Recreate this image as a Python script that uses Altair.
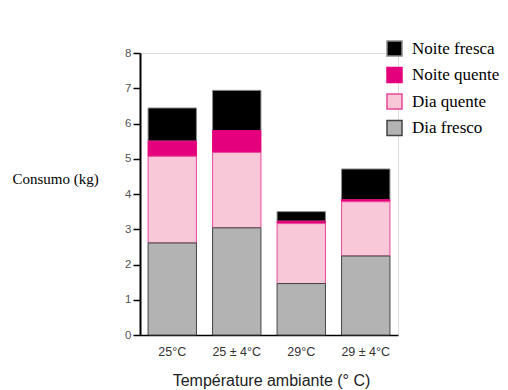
import altair as alt
import pandas as pd

categories = ["25°C", "25 ± 4°C", "29°C", "29 ± 4°C"]
dia_fresco = [2.61, 3.04, 1.46, 2.24]
dia_quente = [2.46, 2.14, 1.70, 1.54]
noite_quente = [0.43, 0.62, 0.07, 0.06]
noite_fresca = [0.94, 1.14, 0.27, 0.87]

series_names = ["Noite fresca", "Noite quente", "Dia quente", "Dia fresco"]
series_values = [noite_fresca, noite_quente, dia_quente, dia_fresco]
stack_order = {"Dia fresco": 0, "Dia quente": 1, "Noite quente": 2, "Noite fresca": 3}

fills = ["#000000", "#e4007c", "#f8c8d9", "#b3b3b3"]
strokes = ["#8a8a8a", "#e4007c", "#e8489a", "#444444"]

rows = []
for name, vals in zip(series_names, series_values):
    for cat, v in zip(categories, vals):
        rows.append({"cat": cat, "serie": name, "valor": v, "ordem": stack_order[name]})
df = pd.DataFrame(rows)

legend_common = dict(title=None, orient="none", legendX=246, legendY=-13,
                     symbolType="square", symbolSize=225, symbolStrokeWidth=1.5,
                     labelFont="Liberation Serif", labelFontSize=17,
                     labelColor="#000000", labelOffset=9, rowPadding=5.5,
                     symbolOpacity=1)

chart = alt.Chart(df).mark_bar(strokeWidth=1).encode(
    x=alt.X("cat:N", sort=categories,
            scale=alt.Scale(paddingInner=0.25, paddingOuter=0.125),
            axis=alt.Axis(title="Température ambiante (° C)", labelAngle=0, ticks=False,
                          labelFont="Liberation Sans", labelFontSize=12.5, labelColor="#333333",
                          labelPadding=10, domainColor="#000000", domainWidth=1.5,
                          titleFont="Liberation Sans", titleFontSize=16, titleFontWeight="normal",
                          titleColor="#222222", titleX=131, titleY=50, titleBaseline="alphabetic")),
    y=alt.Y("valor:Q", stack="zero", scale=alt.Scale(domain=[0, 8], nice=False),
            axis=alt.Axis(title="Consumo (kg)", values=[0, 1, 2, 3, 4, 5, 6, 7, 8], grid=False,
                          tickSize=7, tickWidth=1.5, tickColor="#000000",
                          domainColor="#000000", domainWidth=2,
                          labelFont="Liberation Sans", labelFontSize=11.5, labelColor="#555555",
                          labelPadding=2,
                          titleAngle=0, titleX=-128, titleY=125, titleAlign="left",
                          titleBaseline="middle", titleFont="Liberation Serif",
                          titleFontSize=15, titleFontWeight="normal", titleColor="#000000")),
    fill=alt.Fill("serie:N", scale=alt.Scale(domain=series_names, range=fills),
                  legend=alt.Legend(**legend_common)),
    stroke=alt.Stroke("serie:N", scale=alt.Scale(domain=series_names, range=strokes),
                      legend=alt.Legend(**legend_common)),
    order=alt.Order("ordem:Q", sort="ascending"),
).properties(
    width=258, height=282,
    autosize=alt.AutoSizeParams(type="none"),
    padding={"left": 132, "top": 45, "right": 102, "bottom": 58},
).configure_view(stroke=None).configure(background="white")

chart.save("out.html", embed_options={"renderer": "svg", "actions": False})
